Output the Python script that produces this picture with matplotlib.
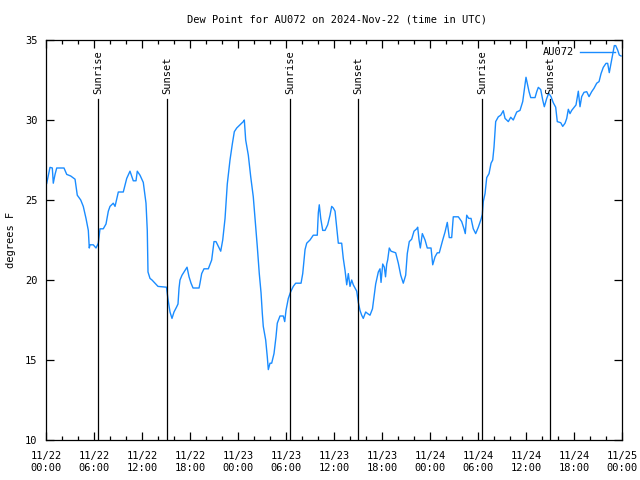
import numpy as np
import matplotlib
matplotlib.use("Agg")
import matplotlib.pyplot as plt

# hours since 2024-11-22 00:00 UTC
hours = [0.09, 0.5, 0.79, 0.91, 1.13, 1.34, 2.25, 2.59, 3.09, 3.63, 3.91, 4.34, 4.66, 5.0, 5.29,
         5.41, 5.5, 5.91, 6.25, 6.54, 6.75, 7.16, 7.5, 7.79, 8.0, 8.41, 8.63, 9.04, 9.66, 10.09,
         10.5, 10.71, 10.91, 11.25, 11.41, 11.75, 12.16, 12.5, 12.66, 12.75, 13.0, 13.25, 13.63,
         14.0, 15.06, 15.25, 15.5, 15.75, 16.0, 16.31, 16.5, 16.63, 16.75, 17.0, 17.38, 17.63,
         17.88, 18.13, 18.38, 19.13, 19.25, 19.46, 19.75, 20.29, 20.71, 21.0, 21.25, 21.54, 21.84,
         22.09, 22.38, 22.66, 23.0, 23.29, 23.54, 23.84, 24.25, 24.66, 24.79, 24.96, 25.29, 25.59,
         25.91, 26.13, 26.41, 26.66, 26.88, 27.04, 27.16, 27.46, 27.66, 27.79, 28.0, 28.21, 28.5,
         28.75, 28.91, 29.25, 29.66, 29.84, 30.0, 30.29, 30.59, 30.91, 31.21, 31.88, 32.09, 32.38,
         32.59, 33.0, 33.41, 33.91, 34.04, 34.16, 34.34, 34.59, 34.88, 35.21, 35.5, 35.71, 35.91,
         36.13, 36.34, 36.54, 36.96, 37.16, 37.38, 37.59, 37.79, 38.0, 38.21, 38.41, 38.63, 38.84,
         39.04, 39.25, 39.46, 39.66, 39.96, 40.21, 40.5, 40.81, 41.0, 41.21, 41.54, 41.75, 41.88,
         42.09, 42.29, 42.44, 42.59, 42.71, 42.91, 43.13, 43.71, 44.04, 44.34, 44.66, 44.96, 45.16,
         45.41, 45.71, 46.0, 46.34, 46.46, 46.63, 46.79, 47.04, 47.38, 47.66, 48.13, 48.34, 48.63,
         48.91, 49.16, 49.59, 49.88, 50.16, 50.41, 50.71, 50.91, 51.54, 51.96, 52.25, 52.41, 52.59,
         52.84, 53.13, 53.41, 53.71, 54.04, 54.38, 54.54, 54.66, 54.88, 55.09, 55.38, 55.63, 55.84,
         56.0, 56.21, 56.54, 56.84, 57.16, 57.38, 57.79, 58.09, 58.41, 58.84, 59.25, 59.59, 59.79,
         60.0, 60.16, 60.38, 60.59, 61.13, 61.34, 61.54, 61.84, 62.09, 62.29, 62.59, 62.84, 63.13,
         63.41, 63.71, 63.91, 64.34, 64.59, 64.88, 65.09, 65.29, 65.5, 65.71, 65.91, 66.25, 66.54,
         66.75, 66.96, 67.25, 67.59, 67.88, 68.21, 68.5, 68.84, 69.13, 69.38, 69.66, 70.0, 70.21,
         70.41, 70.63, 70.84, 71.04, 71.21, 71.46, 71.66, 71.88]
dewpoint = [26.04, 27.04, 27.0, 26.05, 26.6, 27.0, 27.0, 26.6, 26.5, 26.3, 25.3, 25.0, 24.6, 23.85,
            23.1, 22.0, 22.2, 22.2, 22.0, 22.3, 23.2, 23.2, 23.5, 24.3, 24.6, 24.8, 24.6, 25.5,
            25.5, 26.35, 26.8, 26.5, 26.2, 26.2, 26.8, 26.55, 26.1, 24.8, 23.1, 20.5, 20.1, 20.0,
            19.8, 19.6, 19.55, 18.8, 18.0, 17.6, 18.0, 18.3, 18.5, 19.5, 20.0, 20.3, 20.6, 20.8,
            20.2, 19.8, 19.5, 19.5, 19.8, 20.4, 20.7, 20.7, 21.25, 22.4, 22.4, 22.1, 21.8, 22.5,
            23.85, 26.0, 27.5, 28.5, 29.27, 29.5, 29.7, 29.9, 30.0, 28.75, 27.8, 26.45, 25.2, 23.85,
            22.1, 20.4, 19.2, 17.9, 17.1, 16.25, 15.2, 14.4, 14.8, 14.8, 15.4, 16.45, 17.3, 17.75,
            17.75, 17.4, 18.1, 18.85, 19.27, 19.6, 19.8, 19.8, 20.4, 21.9, 22.3, 22.5, 22.8, 22.8,
            24.2, 24.7, 23.85, 23.1, 23.1, 23.45, 24.05, 24.6, 24.5, 24.3, 23.3, 22.3, 22.3, 21.35,
            20.6, 19.7, 20.4, 19.6, 20.0, 19.7, 19.5, 19.3, 18.6, 18.1, 17.8, 17.6, 18.0, 17.9,
            17.8, 18.2, 18.95, 19.75, 20.5, 20.7, 19.85, 21.0, 20.8, 20.2, 21.0, 21.25, 22.0, 21.8,
            21.7, 21.05, 20.3, 19.8, 20.3, 21.65, 22.4, 22.55, 23.05, 23.2, 23.3, 22.5, 22.0, 22.9,
            22.5, 22.0, 22.0, 20.95, 21.45, 21.7, 21.7, 22.5, 23.0, 23.6, 22.65, 22.65, 23.95, 23.95,
            23.65, 23.2, 22.9, 24.05, 23.85, 23.85, 23.2, 22.9, 23.3, 23.8, 24.1, 24.9, 25.4, 26.4,
            26.65, 27.3, 27.5, 28.3, 29.9, 30.2, 30.3, 30.58, 30.1, 29.9, 30.17, 30.0, 30.5, 30.6,
            31.15, 31.9, 32.67, 32.3, 31.77, 31.4, 31.4, 31.77, 32.04, 31.9, 31.25, 30.83, 31.35,
            31.67, 31.46, 31.08, 30.8, 29.9, 29.83, 29.6, 29.8, 30.1, 30.67, 30.4, 30.6, 30.73,
            30.94, 31.8, 30.83, 31.46, 31.73, 31.77, 31.46, 31.77, 31.98, 32.3, 32.4, 32.9, 33.29,
            33.54, 33.54, 32.96, 33.54, 34.06, 34.65, 34.65, 34.37, 34.06, 34.0]

event_hours = [6.55, 15.1, 30.55, 39.05, 54.55, 63.05]
event_names = ["Sunrise", "Sunset", "Sunrise", "Sunset", "Sunrise", "Sunset"]

tick_hours = list(range(0, 73, 6))
tick_labels = ["11/22\n00:00", "11/22\n06:00", "11/22\n12:00", "11/22\n18:00",
               "11/23\n00:00", "11/23\n06:00", "11/23\n12:00", "11/23\n18:00",
               "11/24\n00:00", "11/24\n06:00", "11/24\n12:00", "11/24\n18:00",
               "11/25\n00:00"]

plt.rcParams['font.family'] = ['DejaVu Sans Mono']
plt.rcParams['font.size'] = 7.5

fig = plt.figure(figsize=(6.4, 4.8), dpi=100)
ax = fig.add_axes([46 / 640, 40 / 480, 576 / 640, 400 / 480])

ax.plot(hours, dewpoint, color="#1a8cff", lw=1.0, label="AU072")

# sunrise / sunset markers
for h, name in zip(event_hours, event_names):
    ax.plot([h, h], [10, 31.3], color="black", lw=0.9)
    ax.text(h, 31.65, name, rotation=90, ha="center", va="bottom")

ax.set_xlim(0, 72)
ax.set_ylim(10, 35)
ax.set_xticks(tick_hours, labels=tick_labels)
ax.set_xticks(range(0, 73, 2), minor=True)
ax.set_yticks([10, 15, 20, 25, 30, 35])
ax.tick_params(direction="in", top=True, right=True, length=6, width=0.9, pad=6)
ax.tick_params(axis="x", which="major", pad=8)
ax.tick_params(which="minor", direction="in", top=True, length=3, width=0.9)
for s in ax.spines.values():
    s.set_linewidth(0.9)

ax.legend(loc="upper right", frameon=False, markerfirst=False, handlelength=3.3,
          borderaxespad=0.3, handletextpad=0.6, fontsize=7.5)

fig.text(0.526, 1 - 19 / 480, "Dew Point for AU072 on 2024-Nov-22 (time in UTC)",
         ha="center", va="center")
fig.text(11 / 640, 0.5, "degrees F", rotation=90, ha="center", va="center")

plt.savefig("out.png", dpi=100)
